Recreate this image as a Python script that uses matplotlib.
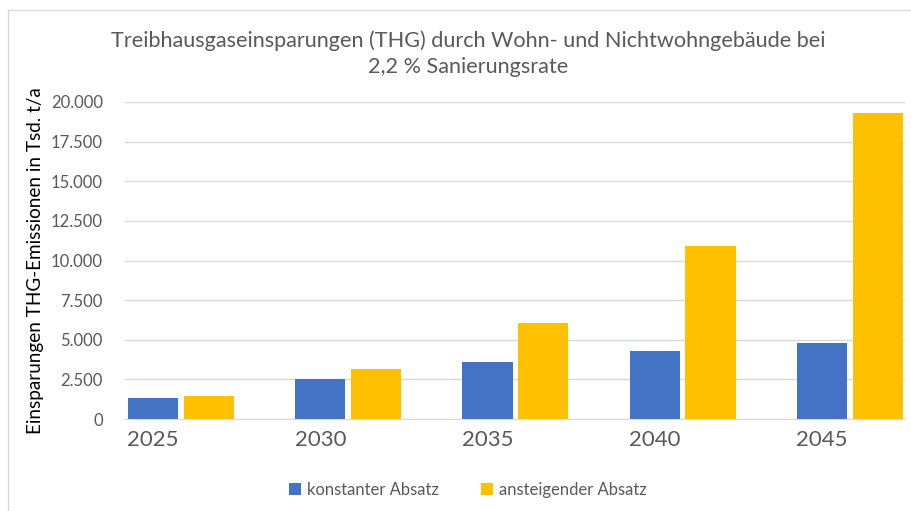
import matplotlib.pyplot as plt
import numpy as np
from matplotlib.lines import Line2D
from matplotlib.ticker import FuncFormatter

plt.rcParams['font.family'] = ['Lato', 'DejaVu Sans']

years = ['2025', '2030', '2035', '2040', '2045']
konstant = [1300, 2500, 3620, 4290, 4800]
ansteigend = [1450, 3140, 6040, 10900, 19330]

blue = '#4472C4'
gold = '#FFC000'
grey = '#595959'

fig = plt.figure(figsize=(9.12, 5.11), dpi=100)
ax = fig.add_axes([125/912, 92/511, 780/912, 317/511])

x = np.arange(len(years))
w = 0.3
off = 0.167
ax.bar(x - off, konstant, w, color=blue, label='konstanter Absatz')
ax.bar(x + off, ansteigend, w, color=gold, label='ansteigender Absatz')

ax.set_xlim(-0.335, 4.33)
ax.set_ylim(0, 20000)
ax.set_yticks(np.arange(0, 20001, 2500))
ax.yaxis.set_major_formatter(FuncFormatter(lambda v, p: f'{int(v):,}'.replace(',', '.')))
ax.grid(axis='y', color='#d9d9d9', linewidth=1)
ax.set_axisbelow(True)
for s in ['top', 'right', 'left']:
    ax.spines[s].set_visible(False)
ax.spines['bottom'].set_color('#d9d9d9')
ax.tick_params(axis='y', length=0, labelsize=12, labelcolor=grey, pad=16)
ax.set_xticks(x - off)
ax.set_xticklabels(years)
ax.tick_params(axis='x', length=0, labelsize=16, labelcolor=grey, pad=8)

ax.set_ylabel('Einsparungen THG-Emissionen in Tsd. t/a', fontsize=13.6, color='black', labelpad=5)

fig.text(468/912, 1 - 54/511, 'Treibhausgaseinsparungen (THG) durch Wohn- und Nichtwohngebäude bei\n2,2 % Sanierungsrate',
         ha='center', va='center', fontsize=15.6, color=grey, linespacing=1.4)

ax.legend(loc='center', bbox_to_anchor=(468/912, 1 - 490/511), bbox_transform=fig.transFigure,
          ncol=2, frameon=False, fontsize=12, labelcolor=grey, handlelength=0.7, handleheight=0.7,
          handletextpad=0.4, columnspacing=2.5)

fig.add_artist(Line2D([8/912, 8/912], [0, 1 - 10/511], transform=fig.transFigure, color='#d9d9d9', lw=1))
fig.add_artist(Line2D([8/912, 1], [1 - 10/511, 1 - 10/511], transform=fig.transFigure, color='#d9d9d9', lw=1))

fig.savefig('out.png', dpi=100)
